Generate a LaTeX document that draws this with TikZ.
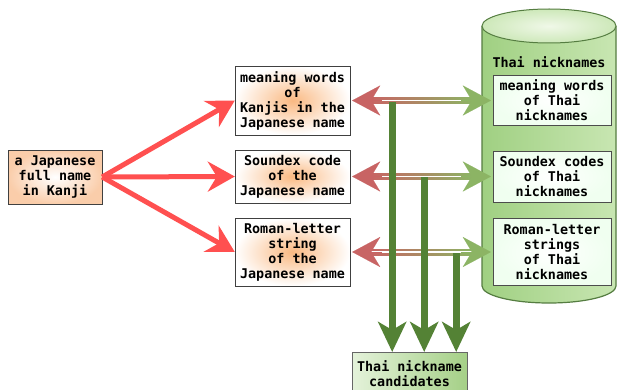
\documentclass[tikz,border=0pt]{standalone}
\usepackage{fontspec}
\setmonofont{DejaVu Sans Mono}
\usetikzlibrary{arrows.meta,calc}
\definecolor{redarrow}{RGB}{255,80,80}
\definecolor{darkgreen}{RGB}{84,130,53}
\definecolor{headred}{RGB}{200,100,100}
\definecolor{headgreen}{RGB}{140,180,100}
\definecolor{peach}{RGB}{250,205,170}
\definecolor{glow}{RGB}{250,185,130}
\definecolor{cylleft}{RGB}{160,208,130}
\definecolor{cylmid}{RGB}{240,248,232}
\definecolor{cylright}{RGB}{200,230,178}
\definecolor{cyltop}{RGB}{205,232,185}
\definecolor{cylline}{RGB}{85,125,65}
\definecolor{candleft}{RGB}{228,242,218}
\definecolor{candright}{RGB}{165,208,135}
\tikzset{
  txt/.style={font=\ttfamily\bfseries\fontsize{13.4}{15}\selectfont, align=center, inner sep=1pt},
  jpbox/.style={txt, draw=black!75, minimum width=115pt, inner color=glow, outer color=white},
  thbox/.style={txt, draw=black!70, minimum width=118pt, inner color=white, outer color=green!6},
  redarr/.style={redarrow, line width=5pt, -{Stealth[length=27pt,width=30pt,inset=9pt]}},
  grnarr/.style={darkgreen, line width=7pt, -{Stealth[length=30pt,width=28pt,inset=8pt]}},
  lefthead/.style={headred, line width=0.1pt, {Stealth[length=28pt,width=30pt,inset=9pt]}-},
  righthead/.style={headgreen, line width=0.1pt, -{Stealth[length=28pt,width=30pt,inset=9pt]}},
}
\begin{document}
\begin{tikzpicture}[x=1pt,y=1pt]
  \useasboundingbox (0,0) rectangle (618,389);
  \fill[white] (0,0) rectangle (618,389);

  % database cylinder
  \shade[left color=cylleft, middle color=cylmid, right color=cylright]
    (482,363) -- (482,103) arc[start angle=180, end angle=360, x radius=67, y radius=17]
    -- (616,363) arc[start angle=0, end angle=180, x radius=67, y radius=17] -- cycle;
  \draw[cylline, line width=1.2pt] (482,363) -- (482,103)
    arc[start angle=180, end angle=360, x radius=67, y radius=17] -- (616,363);
  \draw[cylline, line width=1pt, inner color=cylmid, outer color=cyltop]
    (549,363) ellipse [x radius=67, y radius=17];
  \node[txt] (thai) at (549,327) {Thai nicknames};

  \node[txt, draw=black!75, minimum width=94pt, minimum height=54pt,
        inner color=white, outer color=peach] (jp) at (55,212) {a Japanese\\full name\\in Kanji};

  \node[jpbox, minimum height=69pt] (j1) at (292.5,288.5) {meaning words\\of\\Kanjis in the\\Japanese name};
  \node[jpbox, minimum height=53pt] (j2) at (292.5,212.5) {Soundex code\\of the\\Japanese name};
  \node[jpbox, minimum height=68pt] (j3) at (292.5,137) {Roman-letter\\string\\of the\\Japanese name};

  \node[thbox, minimum height=50pt] (t1) at (552,288.5) {meaning words\\of Thai\\nicknames};
  \node[thbox, minimum height=51pt] (t2) at (552,212.5) {Soundex codes\\of Thai\\nicknames};
  \node[thbox, minimum height=67pt] (t3) at (552,137) {Roman-letter\\strings\\of Thai\\nicknames};

  \node[txt, draw=black!60, minimum width=115pt, minimum height=42pt, anchor=north,
        left color=candleft, right color=candright] (cand) at (409.5,37) {Thai nickname\\candidates};

  \draw[redarr] (jp.east) -- (j1.west);
  \draw[redarr] (jp.east) -- (j2.west);
  \draw[redarr] (jp.east) -- (j3.west);

  \foreach \a/\b in {j1/t1, j2/t2, j3/t3} {
    \shade[left color=headred, right color=headgreen]
      ($(\a.east)+(20,-3)$) rectangle ($(\b.west)+(-20,3)$);
    \draw[white, line width=1.4pt] ($(\a.east)+(20,0)$) -- ($(\b.west)+(-20,0)$);
    \draw[lefthead] ($(\a.east)+(2,0)$) -- ++(30,0);
    \draw[righthead] ($(\b.west)+(-32,0)$) -- ++(30,0);
  }

  \coordinate (g1) at ($(j1.east)+(42,-1.5)$);
  \coordinate (g2) at ($(j2.east)+(74,-0.5)$);
  \coordinate (g3) at ($(j3.east)+(106,-1)$);
  \draw[grnarr] (g1) -- (g1 |- cand.north);
  \draw[grnarr] (g2) -- (g2 |- cand.north);
  \draw[grnarr] (g3) -- (g3 |- cand.north);
\end{tikzpicture}
\end{document}
